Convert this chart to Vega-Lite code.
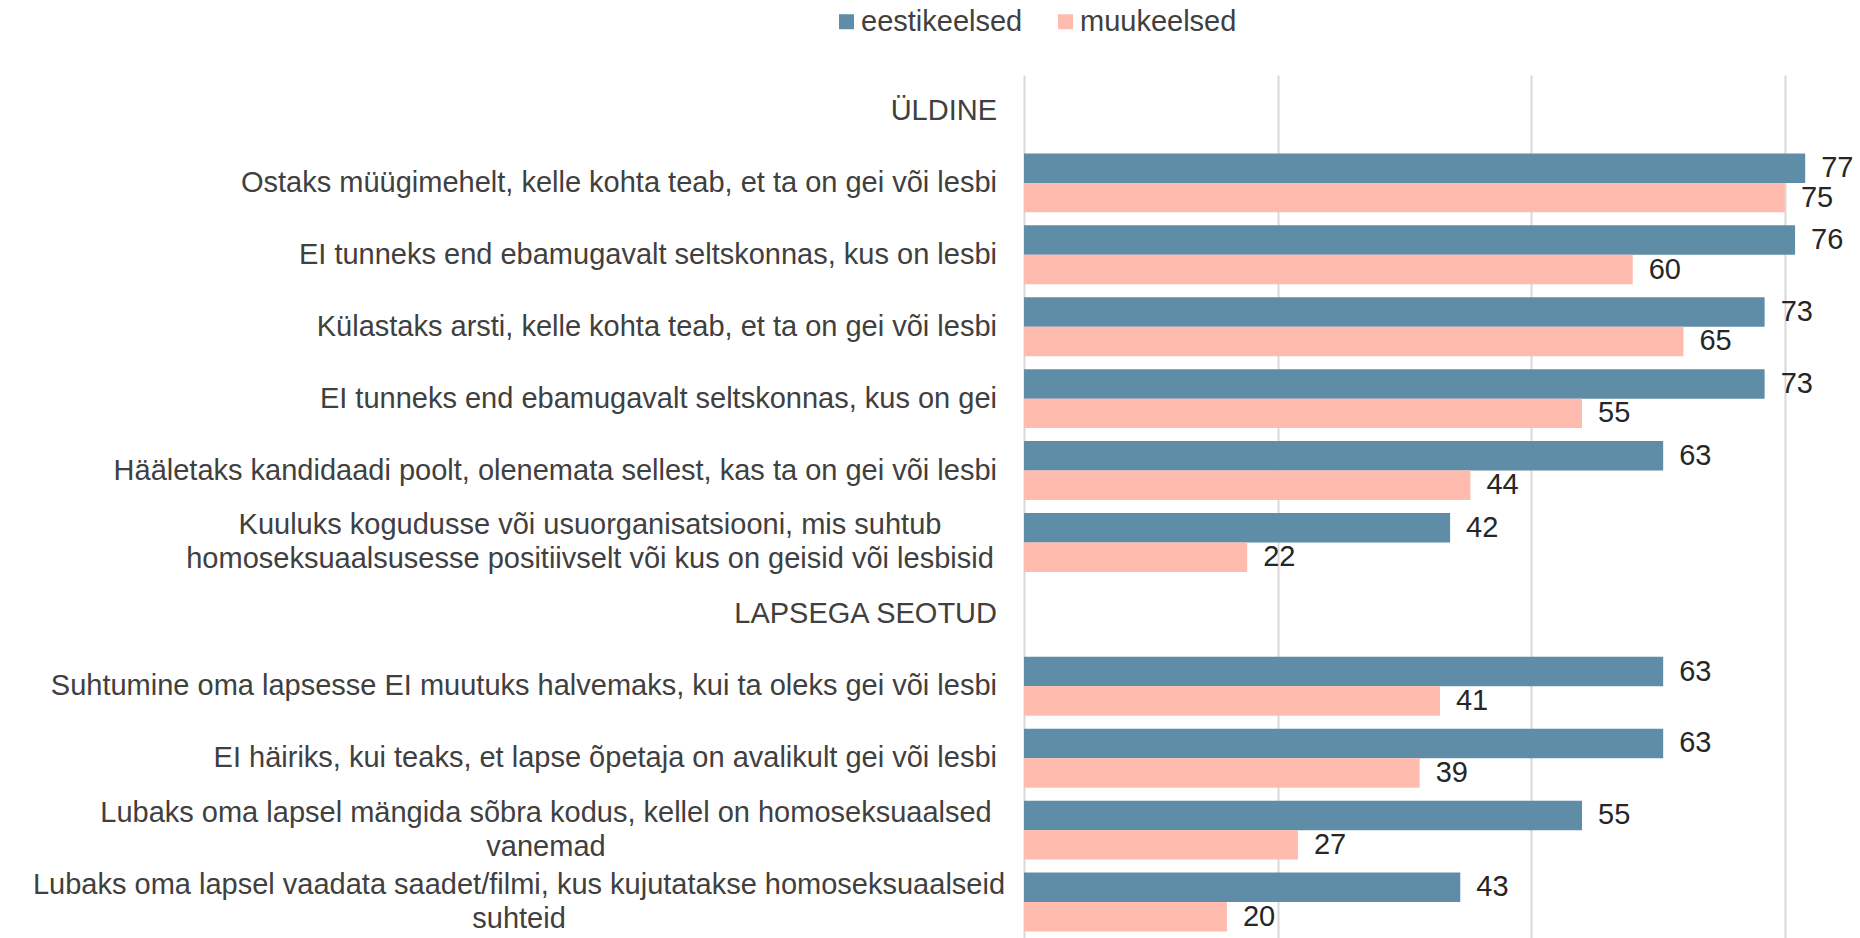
{
  "$schema": "https://vega.github.io/schema/vega-lite/v6.json",
  "autosize": {"type": "none"},
  "padding": {"left": 1024, "top": 75, "right": 0, "bottom": 0},
  "width": 836,
  "height": 863,
  "background": "white",
  "config": {
    "view": {"stroke": null},
    "font": "Liberation Sans"
  },
  "datasets": {
    "bars": [
      {"cat": "Ostaks müügimehelt, kelle kohta teab, et ta on gei või lesbi", "grp": "eestikeelsed", "val": 77},
      {"cat": "Ostaks müügimehelt, kelle kohta teab, et ta on gei või lesbi", "grp": "muukeelsed", "val": 75},
      {"cat": "EI tunneks end ebamugavalt seltskonnas, kus on lesbi", "grp": "eestikeelsed", "val": 76},
      {"cat": "EI tunneks end ebamugavalt seltskonnas, kus on lesbi", "grp": "muukeelsed", "val": 60},
      {"cat": "Külastaks arsti, kelle kohta teab, et ta on gei või lesbi", "grp": "eestikeelsed", "val": 73},
      {"cat": "Külastaks arsti, kelle kohta teab, et ta on gei või lesbi", "grp": "muukeelsed", "val": 65},
      {"cat": "EI tunneks end ebamugavalt seltskonnas, kus on gei", "grp": "eestikeelsed", "val": 73},
      {"cat": "EI tunneks end ebamugavalt seltskonnas, kus on gei", "grp": "muukeelsed", "val": 55},
      {"cat": "Hääletaks kandidaadi poolt, olenemata sellest, kas ta on gei või lesbi", "grp": "eestikeelsed", "val": 63},
      {"cat": "Hääletaks kandidaadi poolt, olenemata sellest, kas ta on gei või lesbi", "grp": "muukeelsed", "val": 44},
      {"cat": "Kuuluks kogudusse või usuorganisatsiooni, mis suhtub|homoseksuaalsusesse positiivselt või kus on geisid või lesbisid", "grp": "eestikeelsed", "val": 42},
      {"cat": "Kuuluks kogudusse või usuorganisatsiooni, mis suhtub|homoseksuaalsusesse positiivselt või kus on geisid või lesbisid", "grp": "muukeelsed", "val": 22},
      {"cat": "Suhtumine oma lapsesse EI muutuks halvemaks, kui ta oleks gei või lesbi", "grp": "eestikeelsed", "val": 63},
      {"cat": "Suhtumine oma lapsesse EI muutuks halvemaks, kui ta oleks gei või lesbi", "grp": "muukeelsed", "val": 41},
      {"cat": "EI häiriks, kui teaks, et lapse õpetaja on avalikult gei või lesbi", "grp": "eestikeelsed", "val": 63},
      {"cat": "EI häiriks, kui teaks, et lapse õpetaja on avalikult gei või lesbi", "grp": "muukeelsed", "val": 39},
      {"cat": "Lubaks oma lapsel mängida sõbra kodus, kellel on homoseksuaalsed|vanemad", "grp": "eestikeelsed", "val": 55},
      {"cat": "Lubaks oma lapsel mängida sõbra kodus, kellel on homoseksuaalsed|vanemad", "grp": "muukeelsed", "val": 27},
      {"cat": "Lubaks oma lapsel vaadata saadet/filmi, kus kujutatakse homoseksuaalseid|suhteid", "grp": "eestikeelsed", "val": 43},
      {"cat": "Lubaks oma lapsel vaadata saadet/filmi, kus kujutatakse homoseksuaalseid|suhteid", "grp": "muukeelsed", "val": 20}
    ],
    "cats": [
      {"cat": "ÜLDINE"},
      {"cat": "Ostaks müügimehelt, kelle kohta teab, et ta on gei või lesbi"},
      {"cat": "EI tunneks end ebamugavalt seltskonnas, kus on lesbi"},
      {"cat": "Külastaks arsti, kelle kohta teab, et ta on gei või lesbi"},
      {"cat": "EI tunneks end ebamugavalt seltskonnas, kus on gei"},
      {"cat": "Hääletaks kandidaadi poolt, olenemata sellest, kas ta on gei või lesbi"},
      {"cat": "Kuuluks kogudusse või usuorganisatsiooni, mis suhtub|homoseksuaalsusesse positiivselt või kus on geisid või lesbisid"},
      {"cat": "LAPSEGA SEOTUD"},
      {"cat": "Suhtumine oma lapsesse EI muutuks halvemaks, kui ta oleks gei või lesbi"},
      {"cat": "EI häiriks, kui teaks, et lapse õpetaja on avalikult gei või lesbi"},
      {"cat": "Lubaks oma lapsel mängida sõbra kodus, kellel on homoseksuaalsed|vanemad"},
      {"cat": "Lubaks oma lapsel vaadata saadet/filmi, kus kujutatakse homoseksuaalseid|suhteid"}
    ]
  },
  "layer": [
    {
      "data": {"name": "bars"},
      "mark": {"type": "bar"},
      "encoding": {
        "y": {
          "field": "cat", "type": "nominal", "sort": null,
          "scale": {
            "domain": [
              "ÜLDINE",
              "Ostaks müügimehelt, kelle kohta teab, et ta on gei või lesbi",
              "EI tunneks end ebamugavalt seltskonnas, kus on lesbi",
              "Külastaks arsti, kelle kohta teab, et ta on gei või lesbi",
              "EI tunneks end ebamugavalt seltskonnas, kus on gei",
              "Hääletaks kandidaadi poolt, olenemata sellest, kas ta on gei või lesbi",
              "Kuuluks kogudusse või usuorganisatsiooni, mis suhtub|homoseksuaalsusesse positiivselt või kus on geisid või lesbisid",
              "LAPSEGA SEOTUD",
              "Suhtumine oma lapsesse EI muutuks halvemaks, kui ta oleks gei või lesbi",
              "EI häiriks, kui teaks, et lapse õpetaja on avalikult gei või lesbi",
              "Lubaks oma lapsel mängida sõbra kodus, kellel on homoseksuaalsed|vanemad",
              "Lubaks oma lapsel vaadata saadet/filmi, kus kujutatakse homoseksuaalseid|suhteid"
            ],
            "paddingInner": 0.18,
            "paddingOuter": 0.09
          },
          "axis": null
        },
        "x": {
          "field": "val", "type": "quantitative",
          "scale": {"domain": [0, 82.4], "nice": false, "zero": true},
          "axis": {
            "values": [0, 25, 50, 75],
            "grid": true, "gridColor": "#d9d9d9", "gridWidth": 2,
            "labels": false, "ticks": false, "domain": false, "title": null
          }
        },
        "yOffset": {"field": "grp", "type": "nominal", "scale": {"domain": ["eestikeelsed", "muukeelsed"], "paddingInner": 0, "paddingOuter": 0}},
        "color": {
          "field": "grp", "type": "nominal",
          "scale": {"domain": ["eestikeelsed", "muukeelsed"], "range": ["#5f8ca6", "#ffbcae"]},
          "legend": {
            "title": null,
            "orient": "none",
            "direction": "horizontal",
            "legendX": -192,
            "legendY": -68,
            "symbolType": "square",
            "symbolSize": 225,
            "symbolStrokeWidth": 0,
            "labelFont": "Liberation Sans",
            "labelFontSize": 29,
            "labelColor": "#404040",
            "labelOffset": 0,
            "columnPadding": 28,
            "padding": 0,
            "labelLimit": 400
          }
        }
      }
    },
    {
      "data": {"name": "bars"},
      "mark": {"type": "text", "align": "left", "baseline": "middle", "dx": 16, "fontSize": 29, "font": "Liberation Sans", "color": "#262626"},
      "encoding": {
        "y": {"field": "cat", "type": "nominal", "sort": null},
        "x": {"field": "val", "type": "quantitative"},
        "yOffset": {"field": "grp", "type": "nominal"},
        "text": {"field": "val", "type": "quantitative"}
      }
    },
    {
      "data": {"name": "cats"},
      "mark": {
        "type": "text",
        "baseline": "middle",
        "lineBreak": "|",
        "lineHeight": 34,
        "fontSize": 29,
        "font": "Liberation Sans",
        "color": "#404040",
        "limit": 1200,
        "align": {"expr": "indexof(datum.cat, '|') >= 0 ? 'center' : 'right'"},
        "dy": {"expr": "indexof(datum.cat, '|') >= 0 ? -17 : 0"},
        "dx": {"expr": "indexof(datum.cat, 'Kuuluks') == 0 ? -434 : (indexof(datum.cat, 'Lubaks oma lapsel m') == 0 ? -478 : (indexof(datum.cat, 'Lubaks oma lapsel v') == 0 ? -505 : -27))"}
      },
      "encoding": {
        "y": {"field": "cat", "type": "nominal", "sort": null},
        "x": {"datum": 0, "type": "quantitative"},
        "text": {"field": "cat", "type": "nominal"}
      }
    }
  ]
}
